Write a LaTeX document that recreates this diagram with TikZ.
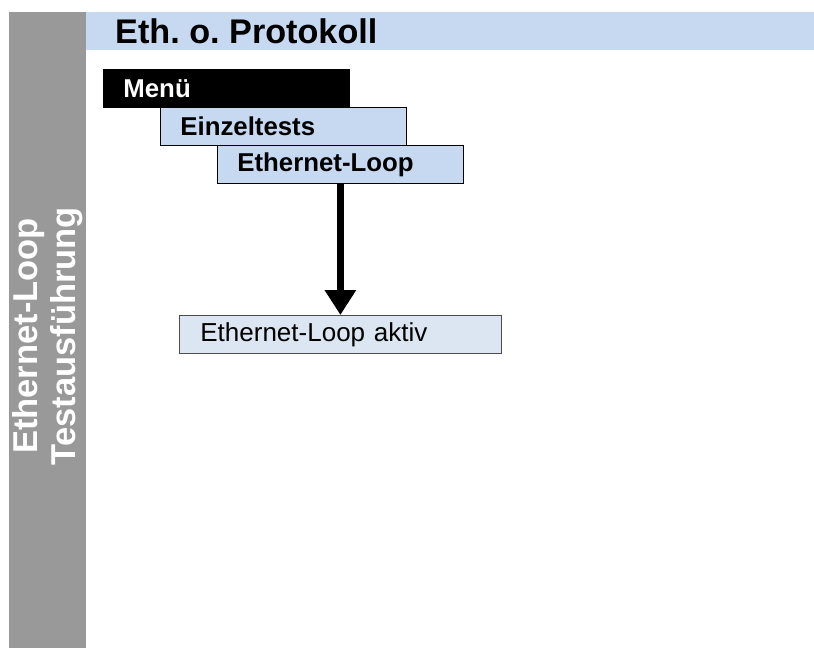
\documentclass[tikz,border=0pt]{standalone}
\usepackage{fontspec}
\setmainfont{Liberation Sans}
\usetikzlibrary{arrows.meta}
\frenchspacing
\definecolor{sidegray}{HTML}{999999}
\definecolor{headblue}{HTML}{C6D9F1}
\definecolor{itemblue}{HTML}{C6D9F1}
\definecolor{stateblue}{HTML}{DCE6F2}
\begin{document}
\begin{tikzpicture}[x=1pt,y=-1pt,
  menubox/.style={draw=black, line width=0.8pt, fill=itemblue, anchor=north west,
    minimum height=38pt, text width=206pt, inner xsep=20pt, inner ysep=0pt,
    align=left, font=\fontsize{25.8}{28}\selectfont\bfseries},
  statebox/.style={draw=black!70, line width=0.8pt, fill=stateblue, anchor=north west,
    minimum height=38pt, text width=280pt, inner xsep=21pt, inner ysep=0pt,
    align=left, font=\fontsize{26}{28}\selectfont},
  flowarrow/.style={line width=7pt, -{Triangle[width=30pt,length=25pt]}}]
  \useasboundingbox (0,0) rectangle (814,648);
  % side bar and header
  \fill[sidegray] (9,12) rectangle (86,648);
  \fill[headblue] (86,12) rectangle (814,50);
  \node[anchor=west, inner sep=0pt, font=\fontsize{34.2}{36}\selectfont\bfseries]
    (title) at (115,31) {Eth. o. Protokoll};
  \node[rotate=90, align=center, text=white, inner sep=0pt,
    font=\fontsize{34.5}{38}\selectfont\bfseries]
    (side) at (48,336) {Ethernet-Loop\\Testausführung};
  % menu path
  \node[menubox, fill=black, text=white] (menu) at (103,69) {Menü};
  \node[menubox] (single) at (160,107) {Einzeltests};
  \node[menubox] (loop) at (217,145) {Ethernet-Loop};
  \node[statebox] (active) at (179,315) {Ethernet-Loop aktiv};
  \draw[flowarrow] (loop.south) -- (active.north);
\end{tikzpicture}
\end{document}
